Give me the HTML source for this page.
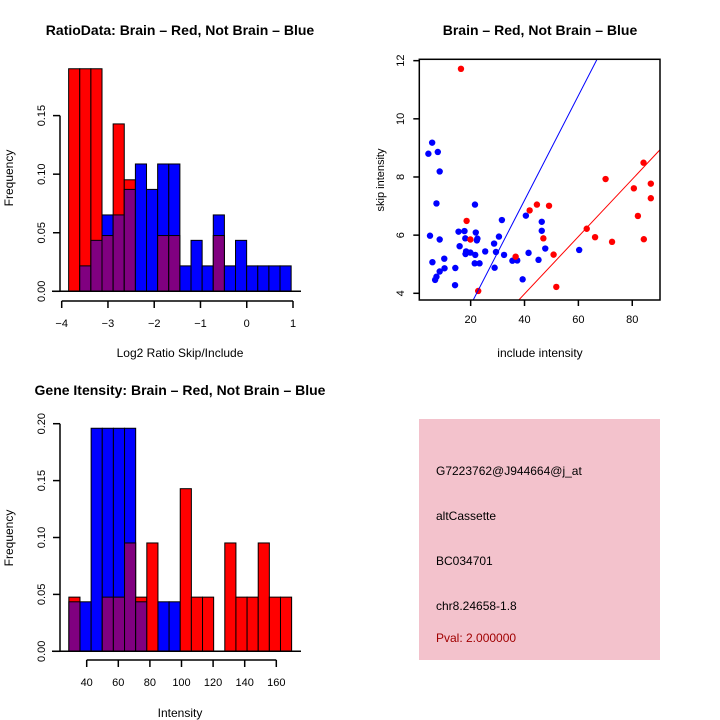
<!DOCTYPE html>
<html><head><meta charset="utf-8"><style>
html,body{margin:0;padding:0;background:#fff;}
svg{display:block;font-family:"Liberation Sans",sans-serif;}
</style></head><body>
<svg id="chart" width="720" height="720" viewBox="0 0 720 720">
<g id="p1"></g>
<g id="p2"></g>
<g id="p3"></g>
<g id="p4">
<rect x="419" y="419" width="241" height="241" fill="#f3c2cc"/>
<text x="436" y="475" font-size="12">G7223762@J944664@j_at</text>
<text x="436" y="520" font-size="12">altCassette</text>
<text x="436" y="565" font-size="12">BC034701</text>
<text x="436" y="610" font-size="12">chr8.24658-1.8</text>
<text x="436" y="642" font-size="12" fill="#a00000">Pval: 2.000000</text>
</g>
</svg>
<script>
// Ratio histogram data
const ratioStart = -3.85;
const ratioWidth = 0.2405;
const ratioRed = [0.190,0.190,0.190,0.0476,0.1429,0.0952,0,0,0.0476,0.0476,0,0,0,0.0476,0,0,0,0,0,0];
const ratioBlue = [0,0.0217,0.0435,0.0652,0.0652,0.087,0.1087,0.087,0.1087,0.1087,0.0217,0.0435,0.0217,0.0652,0.0217,0.0435,0.0217,0.0217,0.0217,0.0217];
const ratioXTicks = [-4,-3,-2,-1,0,1];
const ratioYTicks = [0,0.05,0.10,0.15];
const ratioYLabels = ["0.00","0.05","0.10","0.15"];
// Gene intensity histogram data
const intStart = 28.7;
const intWidth = 7.05;
const intRed = [0.0476,0,0,0.0476,0.0476,0.0952,0.0476,0.0952,0,0,0.1429,0.0476,0.0476,0,0.0952,0.0476,0.0476,0.0952,0.0476,0.0476];
const intBlue = [0.0435,0.0435,0.196,0.196,0.196,0.196,0.0435,0,0.0435,0.0435,0,0,0,0,0,0,0,0,0,0];
const intXTicks = [40,60,80,100,120,140,160];
const intYTicks = [0,0.05,0.10,0.15,0.20];
const intYLabels = ["0.00","0.05","0.10","0.15","0.20"];
// Scatter data
const blueX = [4.3,5.7,7.8,8.5,7.3,4.9,8.5,5.8,7.3,6.8,8.5,10.2,10.3,14.3,14.2,15.5,15.9,17.7,18.0,18.3,18.1,19.9,21.7,21.5,23.3,21.6,21.9,22.3,22.5,25.4,28.7,28.9,29.4,30.5,31.6,32.4,35.5,37.3,39.3,40.5,41.5,45.2,46.4,46.4,47.7,60.3];
const blueY = [8.80,9.18,8.86,8.19,7.09,5.98,5.85,5.07,4.57,4.46,4.75,5.19,4.86,4.87,4.28,6.12,5.62,6.14,5.89,5.44,5.35,5.40,5.32,5.03,5.03,7.05,6.09,5.82,5.88,5.44,5.71,4.88,5.42,5.95,6.52,5.32,5.12,5.13,4.48,6.67,5.39,5.15,6.46,6.15,5.54,5.49];
const redX = [16.4,18.5,19.9,22.8,36.7,41.9,44.6,49.1,47.0,50.8,51.8,63.1,66.2,70.1,72.5,80.6,82.1,84.2,84.3,86.9,86.9];
const redY = [11.72,6.49,5.85,4.08,5.26,6.85,7.05,7.01,5.89,5.33,4.22,6.22,5.93,7.93,5.77,7.61,6.66,8.49,5.86,7.77,7.27];
const blueSlope = 0.180, blueIntercept = 0.0;
const redSlope = 0.0985, redIntercept = 0.04;
const scXTicks = [20,40,60,80];
const scYTicks = [4,6,8,10,12];

const NS = "http://www.w3.org/2000/svg";
function mk(parent, tag, attrs, name, text){
  const e = document.createElementNS(NS, tag);
  for (const k in attrs) e.setAttribute(k, attrs[k]);
  
  
  if (text !== undefined) e.textContent = text;
  parent.appendChild(e);
  return e;
}

function histogram(g, o){
  const sx = v => o.x0 + (v - o.dx0) * o.kx;
  const sy = v => o.y0 - v * o.ky;
  for (let i = 0; i < o.red.length; i++){
    const r = o.red[i], b = o.blue[i];
    const xa = sx(o.start + i*o.width), xb = sx(o.start + (i+1)*o.width);
    const hi = Math.max(r,b), lo = Math.min(r,b);
    if (hi <= 0) continue;
    const col = r >= b ? "#ff0000" : "#0000ff";
    mk(g,'rect',{x:xa,y:sy(hi),width:xb-xa,height:sy(0)-sy(hi),fill:col,stroke:"#000","stroke-width":1},'bar-'+(i+1));
    if (lo > 0){
      mk(g,'rect',{x:xa,y:sy(lo),width:xb-xa,height:sy(0)-sy(lo),fill:"#800080",stroke:"#000","stroke-width":1},'overlap-bar-'+(i+1));
    }
  }
  mk(g,'line',{x1:52,y1:sy(0),x2:301,y2:sy(0),stroke:"#000","stroke-width":1.5},'baseline');
  // y axis
  const ya = mk(g,'g',{},'y-axis');
  mk(ya,'line',{x1:60,y1:sy(o.yTicks[0]),x2:60,y2:sy(o.yTicks[o.yTicks.length-1]),stroke:"#000","stroke-width":1.5},'y-axis-line');
  o.yTicks.forEach((t,i)=>{
    mk(ya,'line',{x1:53,y1:sy(t),x2:60,y2:sy(t),stroke:"#000","stroke-width":1.5},'y-tick');
    mk(ya,'text',{x:0,y:0,transform:`translate(45,${sy(t)}) rotate(-90)`,"text-anchor":"middle","font-size":11},'y-tick-label',o.yLabels[i]);
  });
  // x axis
  const xa = mk(g,'g',{},'x-axis');
  const axY = o.axY;
  mk(xa,'line',{x1:sx(o.xTicks[0]),y1:axY,x2:sx(o.xTicks[o.xTicks.length-1]),y2:axY,stroke:"#000","stroke-width":1.5},'x-axis-line');
  o.xTicks.forEach(t=>{
    mk(xa,'line',{x1:sx(t),y1:axY,x2:sx(t),y2:axY+7,stroke:"#000","stroke-width":1.5},'x-tick');
    mk(xa,'text',{x:sx(t),y:axY+26,"text-anchor":"middle","font-size":11},'x-tick-label',String(t).replace('-','\u2212'));
  });
  mk(g,'text',{x:180,y:o.titleY,"text-anchor":"middle","font-size":14,"font-weight":"bold"},'chart-title',o.title);
  mk(g,'text',{x:180,y:o.xLabY,"text-anchor":"middle","font-size":12},'x-axis-title',o.xLab);
  mk(g,'text',{x:0,y:0,transform:`translate(13,${o.yLabC}) rotate(-90)`,"text-anchor":"middle","font-size":12},'y-axis-title','Frequency');
}

histogram(document.getElementById('p1'),{
  red:ratioRed, blue:ratioBlue, start:ratioStart, width:ratioWidth,
  x0:61.7, dx0:-4, kx:46.26, y0:291.3, ky:1171.3,
  xTicks:ratioXTicks, yTicks:ratioYTicks, yLabels:ratioYLabels, axY:301,
  title:"RatioData: Brain \u2013 Red, Not Brain \u2013 Blue", titleY:35,
  xLab:"Log2 Ratio Skip/Include", xLabY:357, yLabC:178
});
histogram(document.getElementById('p3'),{
  red:intRed, blue:intBlue, start:intStart, width:intWidth,
  x0:86.7, dx0:40, kx:1.58, y0:651.3, ky:1138,
  xTicks:intXTicks, yTicks:intYTicks, yLabels:intYLabels, axY:660,
  title:"Gene Itensity: Brain \u2013 Red, Not Brain \u2013 Blue", titleY:395,
  xLab:"Intensity", xLabY:717, yLabC:538
});

// Scatter
(function(){
  const g = document.getElementById('p2');
  const L=419.3,R=660,T=59.3,B=300;
  const sx = v => 416.8 + v*2.693;
  const sy = v => 293.3 - (v-4)*29.08;
  const dx = v => (v-416.8)/2.693;
  const defs = mk(g,'clipPath',{id:'clipbox'},'clip');
  mk(defs,'rect',{x:L,y:T,width:R-L,height:B-T},'clip-rect');
  const pts = mk(g,'g',{},'points');
  blueX.forEach((x,i)=>{ mk(pts,'circle',{cx:sx(x),cy:sy(blueY[i]),r:3.2,fill:"#0000ff"},'blue-point'); });
  redX.forEach((x,i)=>{ mk(pts,'circle',{cx:sx(x),cy:sy(redY[i]),r:3.2,fill:"#ff0000"},'red-point'); });
  const lines = mk(g,'g',{'clip-path':'url(#clipbox)'},'fit-lines');
  const xa0 = dx(L), xa1 = dx(R);
  mk(lines,'line',{x1:sx(xa0),y1:sy(blueIntercept+blueSlope*xa0),x2:sx(xa1),y2:sy(blueIntercept+blueSlope*xa1),stroke:"#0000ff","stroke-width":1},'blue-fit-line');
  mk(lines,'line',{x1:sx(xa0),y1:sy(redIntercept+redSlope*xa0),x2:sx(xa1),y2:sy(redIntercept+redSlope*xa1),stroke:"#ff0000","stroke-width":1},'red-fit-line');
  mk(g,'rect',{x:L,y:T,width:R-L,height:B-T,fill:"none",stroke:"#000","stroke-width":1.5},'plot-box');
  scXTicks.forEach(t=>{
    mk(g,'line',{x1:sx(t),y1:B,x2:sx(t),y2:B+6,stroke:"#000","stroke-width":1.5},'x-tick');
    mk(g,'text',{x:sx(t),y:B+23,"text-anchor":"middle","font-size":11},'x-tick-label',String(t));
  });
  scYTicks.forEach(t=>{
    mk(g,'line',{x1:L-6,y1:sy(t),x2:L,y2:sy(t),stroke:"#000","stroke-width":1.5},'y-tick');
    mk(g,'text',{x:0,y:0,transform:`translate(404,${sy(t)}) rotate(-90)`,"text-anchor":"middle","font-size":11},'y-tick-label',String(t));
  });
  mk(g,'text',{x:540,y:35,"text-anchor":"middle","font-size":14,"font-weight":"bold"},'chart-title','Brain \u2013 Red, Not Brain \u2013 Blue');
  mk(g,'text',{x:540,y:357,"text-anchor":"middle","font-size":12},'x-axis-title','include intensity');
  mk(g,'text',{x:0,y:0,transform:`translate(384,180) rotate(-90)`,"text-anchor":"middle","font-size":11},'y-axis-title','skip intensity');
})();
</script>
</body></html>
